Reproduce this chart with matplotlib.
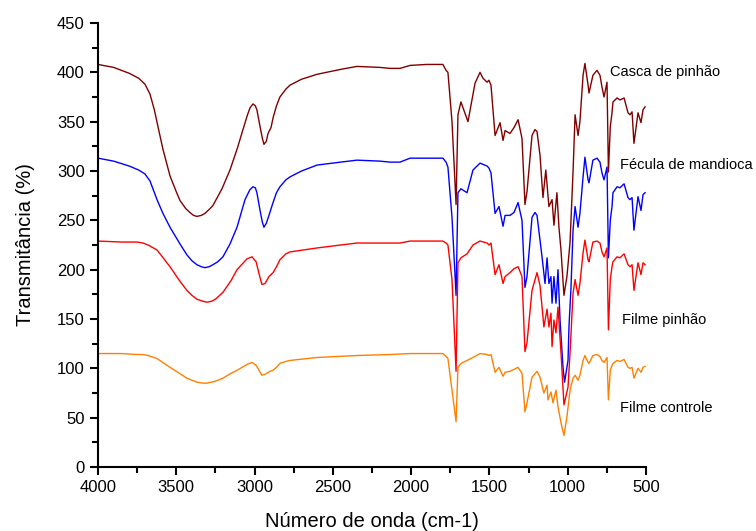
import matplotlib
matplotlib.use('Agg')
import matplotlib.pyplot as plt
from matplotlib.ticker import MultipleLocator

'''Espectros FTIR: casca de pinhão, fécula de mandioca e filmes'''

plt.rcParams['font.family'] = ['Liberation Sans', 'DejaVu Sans']

# Casca de pinhão
casca_wn = [4000, 3900, 3800, 3740, 3700, 3668, 3640, 3610, 3585, 3540, 3500, 3476, 3440, 3413, 3390,
            3368, 3340, 3317, 3290, 3266, 3208, 3157, 3110, 3074, 3045, 3029, 3010, 2995, 2985,
            2965, 2950, 2940, 2925, 2914, 2895, 2880, 2860, 2838, 2800, 2774, 2700, 2601, 2450,
            2346, 2200, 2135, 2071, 2007, 1900, 1797, 1777, 1765, 1739, 1713, 1701, 1682, 1637,
            1592, 1560, 1541, 1515, 1503, 1490, 1464, 1432, 1413, 1400, 1369, 1343, 1317, 1292,
            1273, 1260, 1228, 1209, 1196, 1177, 1158, 1140, 1120, 1100, 1088, 1069, 1056, 1043,
            1024, 1005, 985, 966, 953, 934, 922, 902, 890, 870, 864, 839, 813, 794, 781, 768,
            749, 740, 728, 717, 711, 685, 666, 640, 615, 602, 589, 577, 551, 532, 519, 506]
casca_t = [408, 405, 399, 394, 388, 378, 362, 340, 322, 295, 279, 270, 262, 258, 255,
           254, 255, 257, 261, 265, 282, 301, 323, 342, 357, 364, 368, 366, 362,
           345, 333, 327, 330, 338, 344, 355, 366, 375, 383, 387, 393, 398, 403,
           406, 405, 404, 404, 407, 408, 408, 402, 400, 350, 266, 357, 370, 350,
           389, 400, 394, 390, 392, 387, 336, 349, 331, 341, 338, 344, 352, 333,
           266, 279, 336, 342, 340, 316, 273, 301, 264, 271, 245, 278, 243, 220,
           174, 193, 228, 299, 357, 336, 350, 397, 409, 387, 379, 397, 402, 397, 385, 375,
           390, 299, 345, 359, 370, 374, 372, 374, 359, 357, 360, 328, 359, 349, 362, 365]

# Fécula de mandioca
fecula_wn = [4000, 3900, 3800, 3740, 3700, 3668, 3623, 3585, 3540, 3476, 3432, 3400, 3368, 3340,
             3317, 3290, 3266, 3235, 3202, 3157, 3112, 3061, 3030, 3010, 2995, 2985, 2965, 2950,
             2940, 2925, 2908, 2882, 2860, 2838, 2800, 2774, 2700, 2601, 2450, 2346, 2200, 2135,
             2071, 2007, 1900, 1797, 1777, 1765, 1739, 1713, 1701, 1682, 1643, 1605, 1560, 1515,
             1503, 1490, 1464, 1439, 1413, 1400, 1369, 1343, 1317, 1292, 1273, 1260, 1228, 1209,
             1196, 1164, 1145, 1132, 1120, 1107, 1100, 1088, 1075, 1062, 1049, 1030, 1020, 998,
             992, 979, 966, 953, 934, 922, 902, 890, 870, 864, 839, 813, 794, 781, 768, 749,
             740, 728, 717, 711, 685, 666, 640, 615, 602, 589, 577, 551, 532, 519, 506]
fecula_t = [313, 310, 305, 301, 297, 290, 271, 257, 243, 226, 215, 209, 205, 203,
            202, 203, 205, 208, 213, 226, 243, 271, 281, 284, 283, 278, 260, 248,
            243, 247, 255, 268, 278, 284, 291, 294, 300, 306, 309, 311, 310, 309,
            309, 313, 313, 313, 309, 304, 253, 174, 278, 282, 278, 301, 308, 305,
            303, 298, 257, 264, 244, 255, 255, 258, 268, 250, 182, 193, 253, 258,
            255, 213, 186, 212, 186, 193, 166, 193, 166, 200, 149, 101, 86, 108,
            142, 182, 240, 264, 243, 257, 294, 314, 291, 288, 311, 313, 309, 298, 291, 304,
            212, 250, 264, 278, 284, 283, 287, 273, 271, 273, 240, 274, 260, 276, 278]

# Filme pinhão
pinhao_wn = [4000, 3850, 3750, 3713, 3680, 3623, 3540, 3480, 3432, 3400, 3368, 3330, 3304, 3275,
             3250, 3202, 3150, 3112, 3048, 3016, 2990, 2970, 2953, 2933, 2908, 2882, 2860, 2838,
             2800, 2774, 2601, 2450, 2346, 2135, 2071, 2007, 1797, 1777, 1765, 1739, 1713, 1701,
             1682, 1643, 1605, 1560, 1515, 1503, 1490, 1464, 1439, 1413, 1400, 1369, 1343, 1317,
             1292, 1273, 1260, 1228, 1196, 1177, 1152, 1132, 1120, 1107, 1100, 1088, 1075, 1062,
             1043, 1024, 998, 985, 966, 953, 934, 922, 902, 890, 870, 864, 839, 813, 794, 781,
             768, 749, 740, 728, 717, 711, 685, 666, 640, 615, 602, 589, 577, 551, 532, 519, 506]
pinhao_t = [229, 228, 228, 227, 225, 220, 203, 189, 179, 174, 170, 168, 167, 168,
            170, 177, 189, 200, 211, 213, 208, 195, 185, 186, 193, 197, 203, 210,
            216, 218, 222, 225, 227, 227, 227, 229, 229, 227, 225, 190, 97, 207,
            212, 216, 225, 229, 227, 225, 227, 195, 205, 186, 193, 197, 201, 203,
            193, 117, 126, 179, 197, 184, 142, 160, 142, 156, 122, 149, 136, 162,
            116, 63, 81, 116, 176, 190, 174, 186, 217, 230, 210, 208, 228, 229, 227, 218,
            213, 222, 139, 190, 203, 208, 213, 212, 216, 205, 203, 205, 179, 207, 195, 207, 205]

# Filme controle
controle_wn = [4000, 3850, 3750, 3713, 3680, 3623, 3540, 3480, 3432, 3400, 3368, 3330, 3304, 3275,
               3250, 3202, 3150, 3112, 3048, 3016, 2990, 2953, 2933, 2901, 2882, 2860, 2838, 2800,
               2774, 2601, 2346, 2135, 2007, 1797, 1777, 1765, 1739, 1713, 1701, 1682, 1643, 1605,
               1560, 1515, 1503, 1490, 1464, 1439, 1413, 1400, 1369, 1343, 1317, 1292, 1273, 1260,
               1228, 1196, 1177, 1152, 1132, 1126, 1107, 1094, 1075, 1062, 1043, 1024, 1005, 985,
               966, 953, 934, 922, 902, 890, 870, 864, 839, 813, 794, 781, 768, 749, 740, 728,
               717, 711, 685, 666, 640, 615, 602, 589, 577, 551, 532, 519, 506]
controle_t = [115, 115, 114, 114, 113, 110, 101, 95, 90, 88, 86, 85, 85, 86,
              87, 90, 95, 98, 104, 106, 103, 93, 94, 97, 98, 101, 105, 107,
              108, 111, 113, 114, 115, 115, 112, 110, 78, 46, 101, 105, 108, 111,
              115, 114, 113, 114, 96, 101, 92, 96, 97, 99, 101, 95, 56, 65,
              91, 97, 91, 75, 83, 68, 76, 65, 78, 61, 45, 32, 51, 78,
              90, 93, 88, 93, 108, 113, 106, 105, 113, 114, 112, 108, 106, 111, 68, 98,
              103, 105, 108, 107, 109, 101, 100, 101, 90, 100, 96, 101, 102]

series = [
    (casca_wn, casca_t, '#800000', 'Casca de pinhão', 730, 400),
    (fecula_wn, fecula_t, '#0000ff', 'Fécula de mandioca', 666, 306),
    (pinhao_wn, pinhao_t, '#ff0000', 'Filme pinhão', 653, 149),
    (controle_wn, controle_t, '#ff8000', 'Filme controle', 666, 60),
]

fig = plt.figure(figsize=(7.56, 5.31), dpi=100)
ax = fig.add_axes([0.1296, 0.1205, 0.7249, 0.8362])

for wn, t, cor, nome, tx, ty in series:
    ax.plot(wn, t, color=cor, lw=1.0)
    ax.text(tx, ty, nome, fontsize=10.5, va='center', ha='left', clip_on=False)

ax.set_xlim(4000, 500)
ax.set_ylim(0, 450)
ax.xaxis.set_major_locator(MultipleLocator(500))
ax.xaxis.set_minor_locator(MultipleLocator(250))
ax.yaxis.set_major_locator(MultipleLocator(50))
ax.yaxis.set_minor_locator(MultipleLocator(25))

for lado in ['top', 'right']:
    ax.spines[lado].set_visible(False)
for lado in ['left', 'bottom']:
    ax.spines[lado].set_linewidth(1.5)

ax.tick_params(which='major', direction='out', length=6, width=1.5, labelsize=12)
ax.tick_params(which='minor', direction='out', length=4, width=1.5)

ax.set_xlabel('Número de onda (cm-1)', fontsize=14.5, labelpad=12)
ax.set_ylabel('Transmitância (%)', fontsize=14.5, labelpad=16)

fig.savefig('out.png', dpi=100)
